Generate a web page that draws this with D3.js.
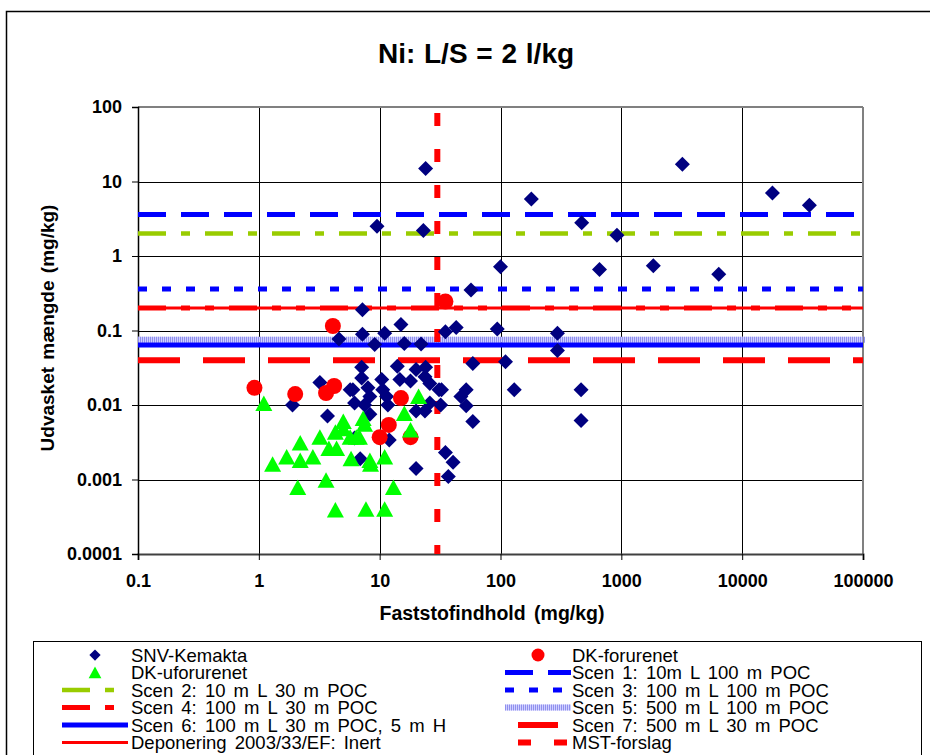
<!DOCTYPE html>
<html>
<head>
<meta charset="utf-8">
<script src="https://cdn.jsdelivr.net/npm/d3@7"></script>
<style>
body{margin:0;background:#fff}
svg{display:block}
text{font-family:"Liberation Sans",Arial,sans-serif}
</style>
</head>
<body>
<div id="chart"></div>
<script>
var width = 930, height = 755
var plotL = 138, plotR = 863, plotT = 107, plotB = 554

// ticks
var xTicks = [0.1, 1, 10, 100, 1000, 10000, 100000]
var yTicks = [0.0001, 0.001, 0.01, 0.1, 1, 10, 100]

// SNV-Kemakta  [faststof, udvasket]
var snvKemakta = [
  [24,15],[9.5,2.5],[23,2.2],[180,5.8],[470,2.8],[920,1.9],[3200,17],[17800,7],[36000,4.8],
  [100,0.72],[660,0.66],[1840,0.74],[6400,0.57],[57,0.35],
  [35,0.096],[43,0.11],[94,0.105],[296,0.092],[296,0.054],[59,0.036],[110,0.038],
  [32.5,0.016],[52,0.016],[47,0.013],[32,0.01],[52,0.0098],[130,0.016],[464,0.016],
  [59,0.006],[464,0.0062],[35,0.0023],[40.5,0.0017],[37,0.0011],[20,0.0014],
  [7.2,0.19],[15,0.12],[7.2,0.089],[11,0.092],[9.1,0.065],[16,0.067],[22,0.066],
  [7.1,0.032],[14,0.033],[24,0.032],[20,0.03],[7.1,0.023],[10.4,0.022],[14.7,0.022],
  [18,0.021],[26,0.0195],[23.7,0.024],[6.0,0.016],[8,0.017],[10.6,0.016],[31,0.016],
  [8.3,0.013],[11.4,0.013],[26,0.0106],[6.2,0.0106],[11.7,0.01],[4.6,0.077],[3.2,0.02],
  [5.7,0.016],[1.9,0.01],[3.7,0.0071],[6.9,0.0019],[7.5,0.01],[20,0.0083],[23.7,0.0083],
  [12,0.0034],[6.2,0.0036],[8.3,0.0075]
]
var dkForurenet = [
  [0.92,0.017],[2.0,0.014],[4.1,0.115],[3.6,0.0145],[4.2,0.018],[15,0.0124],
  [11.9,0.0054],[10,0.0037],[18,0.0037],[35,0.245]
]
var dkUforurenet = [
  [1.1,0.0105],[1.3,0.0016],[1.7,0.002],[2.2,0.0031],[2.2,0.0018],[2.1,0.00078],
  [2.8,0.002],[3.2,0.0037],[3.6,0.00098],[3.8,0.0026],[4.4,0.0026],[4.3,0.00039],
  [4.3,0.0043],[5.0,0.006],[5.0,0.0048],[5.7,0.0037],[5.8,0.0019],[6.4,0.0037],
  [7.3,0.0066],[7.5,0.0055],[6.8,0.0037],[8.3,0.0018],[8.4,0.0016],[7.7,0.0004],
  [11,0.002],[11,0.0004],[13,0.00078],[16,0.0077],[18,0.0046],[21,0.013]
]

// horizontal scenario levels (mg/kg)
var scenNames = ["Scen 1: 10m L 100 m POC","Scen 2: 10 m L 30 m POC","Scen 3: 100 m L 100 m POC",
  "Scen 4: 100 m L 30 m POC","Scen 5: 500 m L 100 m POC","Scen 6: 100 m L 30 m POC, 5 m H",
  "Scen 7: 500 m L 30 m POC","Deponering 2003/33/EF: Inert"]
var scenValues = [3.6, 2.0, 0.36, 0.2, 0.075, 0.064, 0.04, 0.2]
// vertical MST limit (mg/kg faststof)
var mstName = "MST-forslag"
var mstValue = 30

var lineStyle = {
  "Scen 1": {c:"#0000ff", w:5, d:"28,15"},
  "Scen 2": {c:"#99cc00", w:4.5, d:"28,15,9,15"},
  "Scen 3": {c:"#0000ff", w:5, d:"9,15"},
  "Scen 4": {c:"#ff0000", w:5, d:"28,15,9,15,9,15"},
  "Scen 5": {c:"#a8a8f4", w:6, d:null},
  "Scen 6": {c:"#0000ff", w:5, d:null},
  "Scen 7": {c:"#ff0000", w:6, d:"42,23"},
  "Deponering": {c:"#ff0000", w:3, d:null},
  "MST": {c:"#ff0000", w:6, d:"13,23"}
}
function styleOf(name){ return lineStyle[name.split(":")[0].split(" 2003")[0].split("-")[0]] }

var svg = d3.select("#chart").append("svg").attr("width", width).attr("height", height)

svg.append("rect").attr("x",6.5).attr("y",11.5).attr("width",width).attr("height",height)
  .attr("fill","#fff").attr("stroke","#000").attr("stroke-width",1.5)

var x = d3.scaleLog().domain([0.1,100000]).range([plotL,plotR])
var y = d3.scaleLog().domain([0.0001,100]).range([plotB,plotT])

// title
svg.append("text").attr("x",476).attr("y",63).attr("text-anchor","middle")
  .style("font-size","28px").style("font-weight","bold").style("word-spacing","1px").text("Ni: L/S = 2 l/kg")

// grid
var g = svg.append("g")
g.selectAll(".vg").data(xTicks.slice(1,-1)).enter().append("line")
  .attr("x1",d=>Math.round(x(d))+0.5).attr("x2",d=>Math.round(x(d))+0.5)
  .attr("y1",plotT).attr("y2",plotB).attr("stroke","#000").attr("stroke-width",1)
g.selectAll(".hg").data(yTicks.slice(1,-1)).enter().append("line")
  .attr("y1",d=>Math.round(y(d))+0.5).attr("y2",d=>Math.round(y(d))+0.5)
  .attr("x1",plotL).attr("x2",plotR).attr("stroke","#000").attr("stroke-width",1)
// frame
g.append("line").attr("x1",plotL).attr("x2",plotR).attr("y1",plotT).attr("y2",plotT).attr("stroke","#808080").attr("stroke-width",2)
g.append("line").attr("x1",plotR).attr("x2",plotR).attr("y1",plotT).attr("y2",plotB).attr("stroke","#808080").attr("stroke-width",2)

// axes
var xAxis = d3.axisBottom(x).tickValues(xTicks).tickFormat(d=>String(d)).tickSize(6).tickPadding(14)
var yAxis = d3.axisLeft(y).tickValues(yTicks).tickFormat(d=>String(d)).tickSize(6).tickPadding(10)
var gx = svg.append("g").attr("transform","translate(0,"+plotB+")").call(xAxis)
var gy = svg.append("g").attr("transform","translate("+plotL+",0)").call(yAxis)
gx.select(".domain").attr("stroke","#404040").attr("stroke-width",2)
gy.select(".domain").attr("stroke","#000").attr("stroke-width",1.5)
svg.selectAll(".tick line").attr("stroke","#000")
svg.selectAll(".tick text").style("font-size","18px").style("font-weight","bold")
  .style("font-family","'Liberation Sans',Arial,sans-serif").attr("fill","#000")

svg.append("text").attr("x",492).attr("y",620).attr("text-anchor","middle")
  .style("font-size","19.5px").style("font-weight","bold").style("word-spacing","3px").text("Faststofindhold (mg/kg)")
svg.append("text").attr("transform","translate(54,328) rotate(-90)").attr("text-anchor","middle")
  .style("font-size","19px").style("font-weight","bold").style("word-spacing","2px").text("Udvasket mængde (mg/kg)")

// scenario lines
var lines = svg.append("g")
scenNames.forEach(function(name,i){
  var s = styleOf(name)
  var ln = lines.append("line").attr("x1",x(0.1)).attr("x2",x(100000))
    .attr("y1",y(scenValues[i])).attr("y2",y(scenValues[i]))
  if (name.indexOf("Scen 5")==0){
    ln.attr("stroke","#d0d0ff").attr("stroke-width",s.w)
    lines.append("line").attr("x1",x(0.1)).attr("x2",x(100000)+3)
      .attr("y1",y(scenValues[i])).attr("y2",y(scenValues[i]))
      .attr("stroke","#9090ee").attr("stroke-width",s.w).attr("stroke-dasharray","1,1")
  } else {
    ln.attr("stroke",s.c).attr("stroke-width",s.w)
    if (s.d) ln.attr("stroke-dasharray",s.d)
  }
})
var ms = lineStyle["MST"]
lines.append("line").attr("x1",x(mstValue)).attr("x2",x(mstValue))
  .attr("y1",y(100)).attr("y2",y(0.0001))
  .attr("stroke",ms.c).attr("stroke-width",ms.w).attr("stroke-dasharray",ms.d).attr("stroke-dashoffset",30)

// markers
var diamond = "M0,-7.5L7.5,0L0,7.5L-7.5,0Z"
var triangle = "M0,-8L8.5,7.5L-8.5,7.5Z"
var pts = svg.append("g")
pts.selectAll(".snv").data(snvKemakta).enter().append("path")
  .attr("d",diamond).attr("fill","#000080")
  .attr("transform",d=>"translate("+x(d[0])+","+y(d[1])+")")
pts.selectAll(".dkf").data(dkForurenet).enter().append("circle")
  .attr("r",8).attr("fill","#ff0000")
  .attr("cx",d=>x(d[0])).attr("cy",d=>y(d[1]))
pts.selectAll(".dku").data(dkUforurenet).enter().append("path")
  .attr("d",triangle).attr("fill","#00ff00")
  .attr("transform",d=>"translate("+x(d[0])+","+y(d[1])+")")

// legend
svg.append("rect").attr("x",33.5).attr("y",641.5).attr("width",888).attr("height",200)
  .attr("fill","#fff").attr("stroke","#000").attr("stroke-width",1)
var legendItems = ["SNV-Kemakta","DK-forurenet","DK-uforurenet"].concat(scenNames.slice(0,7),[scenNames[7],mstName])
var lg = svg.append("g")
legendItems.forEach(function(name,i){
  var col = i%2, row = Math.floor(i/2)
  var cy = 655 + row*17.5
  var sx = col==0 ? 62 : 505, ex = col==0 ? 128 : 571, tx = col==0 ? 131 : 572
  var mx = (sx+ex)/2
  if (i==0) lg.append("path").attr("d",diamond).attr("fill","#000080").attr("transform","translate("+mx+","+cy+") scale(0.75)")
  else if (i==1) lg.append("circle").attr("r",6.5).attr("cx",mx).attr("cy",cy).attr("fill","#ff0000")
  else if (i==2) lg.append("path").attr("d",triangle).attr("fill","#00ff00").attr("transform","translate("+mx+","+cy+") scale(0.75)")
  else {
    var s = name==mstName ? lineStyle["MST"] : styleOf(name)
    if (name.indexOf("Scen 5")==0){
      lg.append("line").attr("x1",sx).attr("x2",ex).attr("y1",cy).attr("y2",cy).attr("stroke","#d0d0ff").attr("stroke-width",s.w)
      lg.append("line").attr("x1",sx).attr("x2",ex).attr("y1",cy).attr("y2",cy).attr("stroke","#9090ee").attr("stroke-width",s.w).attr("stroke-dasharray","1,1")
    } else {
      var l = lg.append("line").attr("x1",sx).attr("x2",ex).attr("y1",cy).attr("y2",cy).attr("stroke",s.c).attr("stroke-width",s.w)
      if (name==mstName) l.attr("stroke-dasharray","13,23").attr("x1",sx+13)
      else if (name.indexOf("Scen 7")==0) l.attr("x1",sx+13).attr("x2",ex-13)
      else if (s.d) l.attr("stroke-dasharray",s.d)
    }
  }
  lg.append("text").attr("x",tx).attr("y",cy+6.5).style("font-size","18.5px").style("word-spacing","3px").text(name)
})
</script>
</body>
</html>
